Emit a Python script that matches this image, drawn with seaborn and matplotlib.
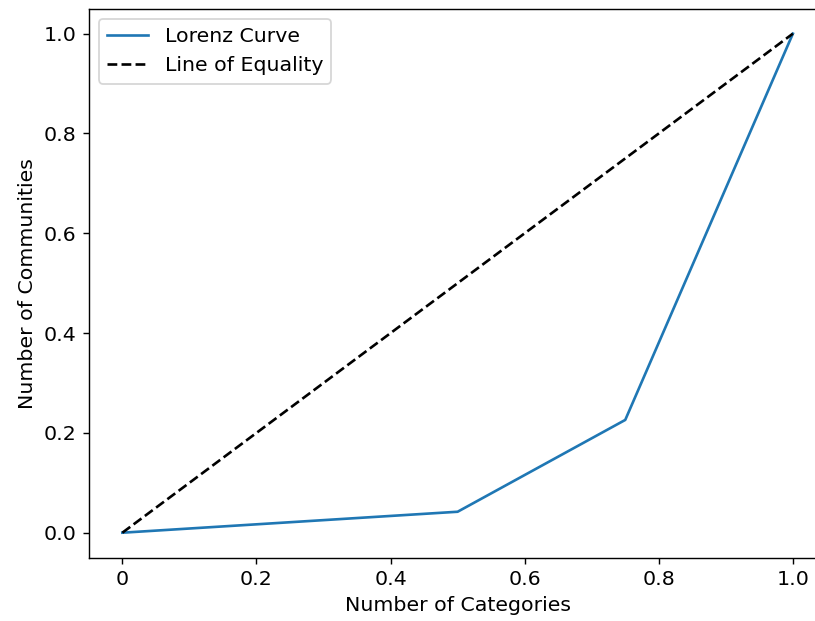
import matplotlib
matplotlib.use("Agg")
import matplotlib.pyplot as plt
import seaborn as sns

# cumulative shares
category_share = [0.0, 0.5, 0.75, 1.0]
community_share = [0.0, 0.042, 0.226, 1.0]
equality_x = [0.0, 1.0]
equality_y = [0.0, 1.0]
x_tick_values = [0.0, 0.2, 0.4, 0.6, 0.8, 1.0]
x_tick_labels = ['0', '0.2', '0.4', '0.6', '0.8', '1.0']

plt.rcParams['font.size'] = 11.6

fig = plt.figure(figsize=(815 / 127, 621 / 127), dpi=127)
# right edge of the axes sits just past the image, as in the cropped original
ax = fig.add_axes([0.109, 0.102, 0.905, 0.884])

sns.lineplot(x=category_share, y=community_share, label='Lorenz Curve',
             color='#1f77b4', ax=ax)
sns.lineplot(x=equality_x, y=equality_y, label='Line of Equality',
             color='black', linestyle='--', ax=ax)

ax.set_xticks(x_tick_values)
ax.set_xticklabels(x_tick_labels)
ax.set_xlabel('Number of Categories')
ax.set_ylabel('Number of Communities')
ax.legend(loc='upper left')
ax.spines['right'].set_visible(False)

fig.savefig('out.png', dpi=127)
plt.close(fig)
